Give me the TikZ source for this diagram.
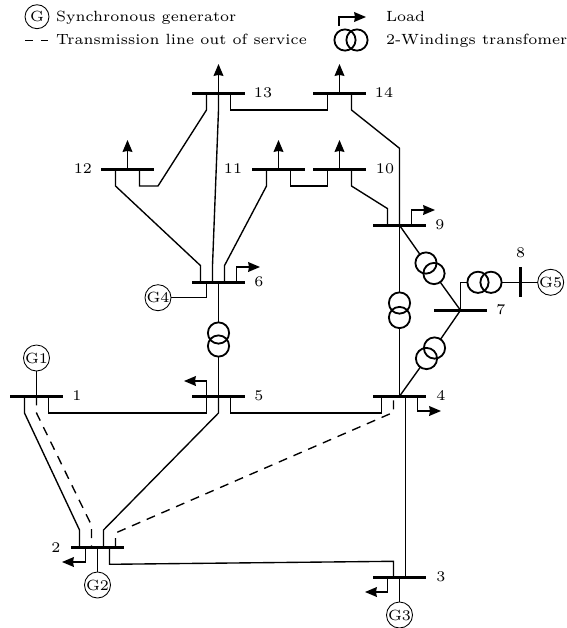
\documentclass[tikz,border=0pt]{standalone}
\usetikzlibrary{arrows.meta,calc}
\tikzset{
  x=0.438pt,y=-0.438pt,
  every node/.style={font=\fontsize{6.48}{7.5}\selectfont,inner sep=0pt,outer sep=0pt},
  bus/.style={draw=none,fill=black,rectangle,minimum width=23.2pt,minimum height=1.45pt},
  vbus/.style={draw=none,fill=black,rectangle,minimum width=1.45pt,minimum height=13.2pt},
  gen/.style={draw,circle,line width=0.38pt,minimum size=11.4pt},
  xf/.style={draw,circle,line width=0.8pt,minimum size=9.3pt},
  line/.style={line width=0.6pt,line join=miter},
  offa/.style={line width=0.6pt,dash pattern=on 3.94pt off 3.15pt},
  offb/.style={line width=0.6pt,dash pattern=on 3.94pt off 3.07pt,dash phase=5.26pt},
  load/.style={line width=0.6pt,-{Stealth[length=5.2pt,width=4.3pt,inset=0.4pt]}},
}
\begin{document}
\begin{tikzpicture}
\useasboundingbox (0,0) rectangle (567,628);
% buses
\node[bus] (b1) at (36.5,396.3) {};
\node[bus] (b2) at (97.5,547.3) {};
\node[bus] (b3) at (399.5,577.3) {};
\node[bus] (b4) at (399.5,396.3) {};
\node[bus] (b5) at (218.5,396.3) {};
\node[bus] (b6) at (218.5,282.3) {};
\node[bus] (b7) at (460.5,310.3) {};
\node[vbus] (b8) at (520.7,282.3) {};
\node[bus] (b9) at (399.5,225.3) {};
\node[bus] (b10) at (339.5,169.3) {};
\node[bus] (b11) at (278.5,169.3) {};
\node[bus] (b12) at (127.5,169.3) {};
\node[bus] (b13) at (218.5,93.3) {};
\node[bus] (b14) at (339.5,93.3) {};
% labels
\node (l1) at (77,396) {1};
\node (l2) at (56,548) {2};
\node (l3) at (441,577) {3};
\node (l4) at (441,396) {4};
\node (l5) at (259,396) {5};
\node (l6) at (259,282) {6};
\node (l7) at (501,310) {7};
\node (l8) at (520.7,253) {8};
\node (l9) at (440,225) {9};
\node (l10) at (385,169) {10};
\node (l11) at (233,169) {11};
\node (l12) at (83,169) {12};
\node (l13) at (263,93) {13};
\node (l14) at (384,93) {14};
% generators
\node[gen] (g1) at (36.5,358) {G1};
\node[gen] (g2) at (97.5,585) {G2};
\node[gen] (g3) at (399.5,615) {G3};
\node[gen] (g4) at (158,297.7) {G4};
\node[gen] (g5) at (550.7,282.3) {G5};
% transformers
\node[xf] (t56a) at (218.5,333) {};
\node[xf] (t56b) at (218.5,346) {};
\node[xf] (t49a) at (399.5,303) {};
\node[xf] (t49b) at (399.5,317.5) {};
\node[xf] (t97a) at (426,263) {};
\node[xf] (t97b) at (434,273.5) {};
\node[xf] (t47a) at (434.5,348) {};
\node[xf] (t47b) at (426.5,358.5) {};
\node[xf] (t78a) at (478,282.3) {};
\node[xf] (t78b) at (491,282.3) {};
% load ends
\coordinate (d2) at (62,562);
\coordinate (d3) at (365,592);
\coordinate (d4) at (441,411);
\coordinate (d5) at (184,381);
\coordinate (d6) at (260,267);
\coordinate (d9) at (435,210);
\coordinate (d10) at (339.5,140);
\coordinate (d11) at (278.5,140);
\coordinate (d12) at (127.5,140);
\coordinate (d13) at (218.5,64);
\coordinate (d14) at (339.5,64);
% loads
\draw[load] ($(b2)+(-12,0)$) |- (d2);
\draw[load] ($(b3)+(-12,0)$) |- (d3);
\draw[load] ($(b4)+(18,0)$) |- (d4);
\draw[load] ($(b5)+(-12,0)$) |- (d5);
\draw[load] ($(b6)+(18,0)$) |- (d6);
\draw[load] ($(b9)+(12,0)$) |- (d9);
\draw[load] (b10.center) -- (d10);
\draw[load] (b11.center) -- (d11);
\draw[load] (b12.center) -- (d12);
\draw[load] (b13.center) -- (d13);
\draw[load] (b14.center) -- (d14);
% generators to buses
\draw[line] (g1) -- (b1.center);
\draw[line] (g2) -- (b2.center);
\draw[line] (g3) -- (b3.center);
\draw[line] ($(b6)+(-12,0)$) |- (g4);
\draw[line] (b8.center) -- (g5);
% lines
\draw[line] ($(b1)+(-12,0)$) -- ($(b1)+(-12,16.7)$) -- ($(b2)+(-18,-17.3)$) -- ($(b2)+(-18,0)$);
\draw[line] ($(b1)+(12,0)$) -- ($(b1)+(12,16.7)$) -- ($(b5)+(-12,16.7)$) -- ($(b5)+(-12,0)$);
\draw[line] (b5.center) -- ($(b5)+(0,16.7)$) -- ($(b2)+(6,-17.3)$) -- ($(b2)+(6,0)$);
\draw[line] ($(b5)+(12,0)$) -- ($(b5)+(12,16.7)$) -- ($(b4)+(-18,16.7)$) -- ($(b4)+(-18,0)$);
\draw[line] ($(b2)+(12,0)$) -- ($(b2)+(12,17)$) -- ($(b3)+(-6,-16)$) -- ($(b3)+(-6,0)$);
\draw[line] ($(b4)+(6,0)$) -- ($(b3)+(6,0)$);
\draw[line] ($(b6)+(-18,0)$) -- ($(b6)+(-18,-16.7)$) -- ($(b12)+(-12,16.7)$) -- ($(b12)+(-12,0)$);
\draw[line] ($(b6)+(-6,0)$) -- ($(b6)+(-6,-16.7)$) -- ($(b13)+(0,16.7)$) -- (b13.center);
\draw[line] ($(b6)+(6,0)$) -- ($(b6)+(6,-16.7)$) -- ($(b11)+(-12,16.7)$) -- ($(b11)+(-12,0)$);
\draw[line] ($(b12)+(12,0)$) -- ($(b12)+(12,16.7)$) -- ($(b12)+(30.5,16.7)$) -- ($(b13)+(-12,16.7)$) -- ($(b13)+(-12,0)$);
\draw[line] ($(b13)+(12,0)$) -- ($(b13)+(12,16.7)$) -- ($(b14)+(-12,16.7)$) -- ($(b14)+(-12,0)$);
\draw[line] ($(b14)+(12,0)$) -- ($(b14)+(12,16.7)$) -- ($(b9)+(0,-77)$) -- (b9.center);
\draw[line] ($(b11)+(12,0)$) -- ($(b11)+(12,16.7)$) -- ($(b10)+(-12,16.7)$) -- ($(b10)+(-12,0)$);
\draw[line] ($(b10)+(12,0)$) -- ($(b10)+(12,16.7)$) -- ($(b9)+(-12,-16.7)$) -- ($(b9)+(-12,0)$);
% transformer connections
\draw[line] (b6.center) -- (t56a);
\draw[line] (t56b) -- (b5.center);
\draw[line] (b9.center) -- (t49a);
\draw[line] (t49b) -- (b4.center);
\draw[line] (b9.center) -- (t97a);
\draw[line] (t97b) -- (b7.center);
\draw[line] (b7.center) -- (t47a);
\draw[line] (t47b) -- (b4.center);
\draw[line] (b7.center) |- (t78a);
\draw[line] (t78b) -- (b8.center);
% out of service
\draw[offa] (b1.center) -- ($(b1)+(0,16.7)$) -- ($(b2)+(-6,-22)$) -- ($(b2)+(-6,0)$);
\draw[offb] ($(b4)+(-6,0)$) -- ($(b4)+(-6,16)$) -- ($(b2)+(18,-14.3)$) -- ($(b2)+(18,0)$);
% legend
\node[gen,minimum size=10.5pt] (lg) at (37,16.7) {G};
\node[anchor=base west] (lt1) at (56,21) {Synchronous generator};
\coordinate (ld1) at (25,40.5);
\coordinate (ld2) at (48,40.5);
\draw[line width=0.75pt,dash pattern=on 3.5pt off 3.5pt] (ld1) -- (ld2);
\node[anchor=base west] (lt2) at (56,44.5) {Transmission line out of service};
\coordinate (ll1) at (339,26);
\coordinate (ll2) at (366,17);
\draw[load] (ll1) |- (ll2);
\node[anchor=base west] (lt3) at (386,21) {Load};
\node[xf] (lx1) at (345,40) {};
\node[xf] (lx2) at (357,40) {};
\node[anchor=base west] (lt4) at (386,44.5) {2-Windings transfomer};
\end{tikzpicture}
\end{document}
